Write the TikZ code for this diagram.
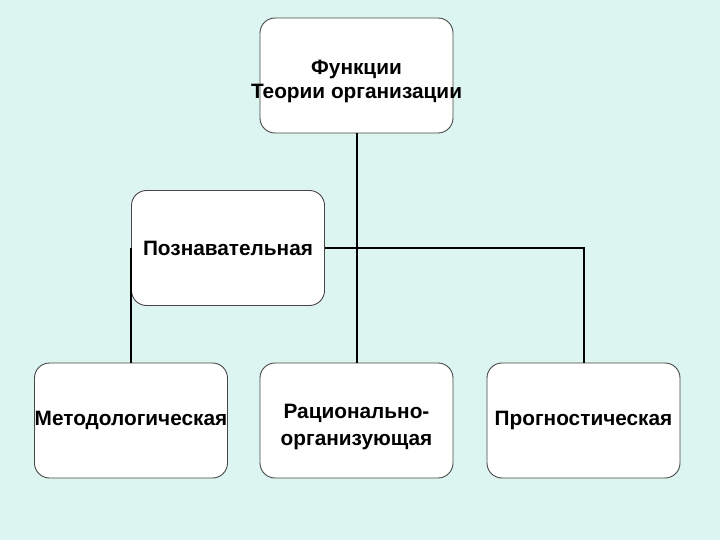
\documentclass[tikz,border=0pt]{standalone}
\usepackage{fontspec}
\setmainfont{Liberation Sans}
\definecolor{bgmint}{RGB}{221,245,240}
\definecolor{boxline}{RGB}{70,70,70}
\newcommand{\boxline}[1]{\makebox[193pt]{#1}}
\newcommand{\lowerby}{\rule{0pt}{27pt}}
\tikzset{
  funcbox/.style={draw=boxline,line width=0.9pt,fill=white,rounded corners=15pt,
    minimum width=193pt,minimum height=115pt,inner xsep=0pt,align=center,
    font=\fontsize{20.8}{25.5}\selectfont\bfseries},
  conn/.style={line width=2pt,black}
}
\begin{document}
\begin{tikzpicture}[x=1pt,y=-1pt]
%background
\fill[bgmint] (0,0) rectangle (720,540);
\useasboundingbox (0,0) rectangle (720,540);
%
\node[funcbox] (top) at (356.5,75.5) {\lowerby\boxline{Функции}\\[-1.5pt]\boxline{Теории организации}};
\node[funcbox] (pozn) at (228,248) {Познавательная};
\node[funcbox] (metod) at (131,420.5) {\boxline{Методологическая}};
\node[funcbox] (ratio) at (356.5,420.5) {\lowerby Рационально-\\[1.5pt]организующая};
\node[funcbox] (progn) at (583.5,420.5) {Прогностическая};
%
\draw[conn] (top.south)--(ratio.north);
\draw[conn] (pozn.east)--(progn.north|-pozn.east)--(progn.north);
\draw[conn] (pozn.west)--(pozn.west|-metod.north);
\end{tikzpicture}
\end{document}
